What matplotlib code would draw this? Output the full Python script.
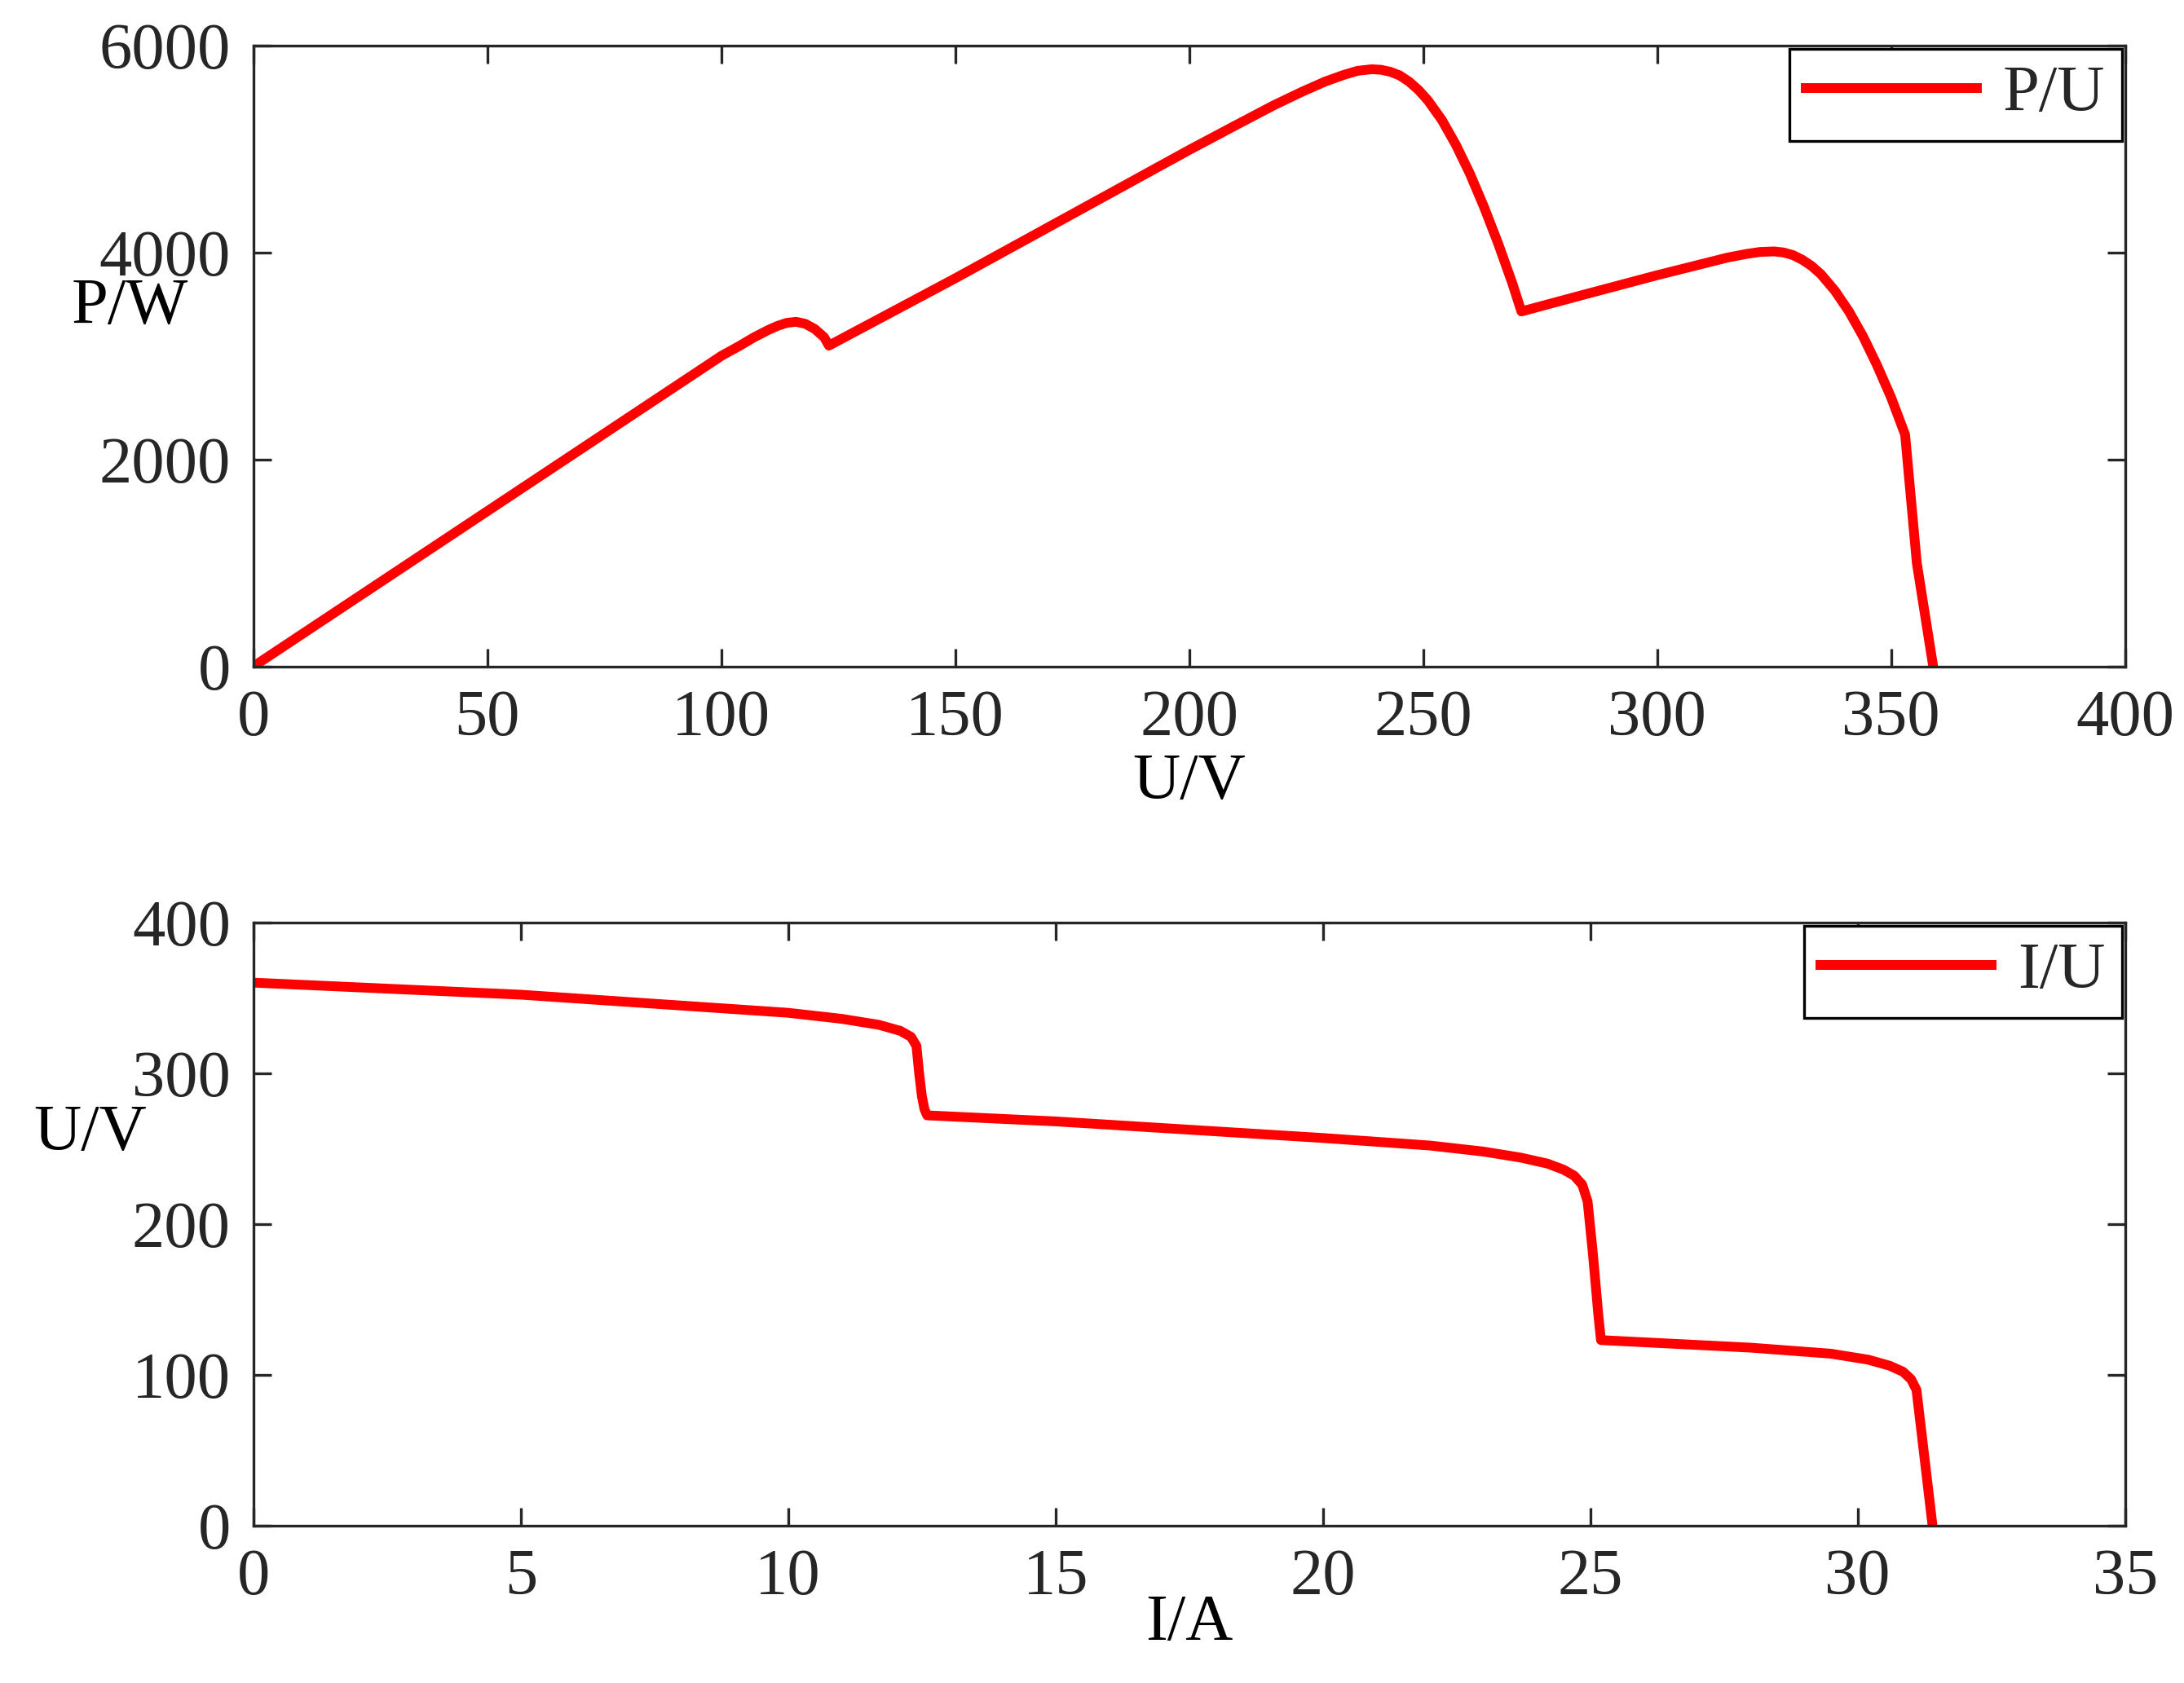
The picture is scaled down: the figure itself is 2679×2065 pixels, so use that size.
import matplotlib.pyplot as plt

plt.rcParams['font.family'] = ['Liberation Serif', 'DejaVu Serif']
plt.rcParams['font.size'] = 29
plt.rcParams['text.color'] = '#262626'
plt.rcParams['xtick.color'] = '#262626'
plt.rcParams['ytick.color'] = '#262626'

# P-U curve
pu_u = [0, 25, 50, 75, 100, 104, 107, 110, 112, 114, 116, 118, 120, 122, 123,
        150, 175, 200, 210, 218, 224, 229, 233, 236, 239, 241, 243, 245, 247, 249, 251, 254, 257, 260, 263, 266, 269, 271,
        285, 300, 315, 319, 322, 325, 327, 329, 331, 333, 335, 338, 341, 344, 347, 350, 353, 356, 359]
pu_p = [0, 750, 1500, 2250, 3000, 3100, 3180, 3250, 3290, 3320, 3330, 3310, 3260, 3180, 3100,
        3750, 4370, 4990, 5230, 5420, 5550, 5650, 5715, 5755, 5770, 5765, 5745, 5710, 5650, 5570, 5470, 5280, 5040, 4760, 4440, 4090, 3710, 3430,
        3600, 3780, 3950, 3985, 4005, 4010, 4000, 3975, 3930, 3870, 3790, 3630, 3430, 3190, 2910, 2600, 2240, 1760, 0]
pu_p[-2] = 1000
pu_u[-2] = 355.5

# I-U curve
iu_i = [0, 5, 10, 11, 11.7, 12.1, 12.3, 12.4, 12.45, 12.5, 12.55, 12.6, 15, 20, 22, 23, 23.7, 24.2, 24.5, 24.7, 24.85, 24.95, 25.05, 25.15, 25.2,
        28, 29.5, 30.2, 30.6, 30.85, 31.0, 31.1, 31.4]
iu_u = [360, 352, 340, 336, 332, 328, 324, 318, 300, 285, 276, 272, 268, 257, 252, 248, 244, 240, 236, 232, 226, 215, 180, 140, 123,
        118, 114, 110, 106, 102, 97, 90, 0]

fig = plt.figure(figsize=(13.395, 10.325), dpi=200)
ax1 = fig.add_axes([0.116, 0.604, 0.857, 0.369])
ax2 = fig.add_axes([0.116, 0.0935, 0.857, 0.3585])

ax1.plot(pu_u, pu_p, color='#ff0000', lw=4.3, label='P/U', solid_joinstyle='round')
ax1.set_xlim(0, 400)
ax1.set_ylim(0, 6000)
ax1.set_xticks(range(0, 401, 50))
ax1.set_yticks(range(0, 6001, 2000))
ax1.set_xlabel('U/V', labelpad=2)
ax1.set_ylabel('P/W', rotation=0)
ax1.yaxis.set_label_coords(-0.066, 0.53)

ax2.plot(iu_i, iu_u, color='#ff0000', lw=4.3, label='I/U', solid_joinstyle='round')
ax2.set_xlim(0, 35)
ax2.set_ylim(0, 400)
ax2.set_xticks(range(0, 36, 5))
ax2.set_yticks(range(0, 401, 100))
ax2.set_xlabel('I/A', labelpad=-6)
ax2.set_ylabel('U/V', rotation=0)
ax2.yaxis.set_label_coords(-0.087, 0.6)

for ax in (ax1, ax2):
    ax.tick_params(direction='in', top=True, right=True, length=8, width=1.2, pad=10)
    for s in ax.spines.values():
        s.set_linewidth(1.2)
        s.set_color('#262626')
    leg = ax.legend(loc='upper right', fancybox=False, edgecolor='black',
                    borderaxespad=0.05, handlelength=2.6, framealpha=1,
                    borderpad=0.25, handletextpad=0.4)
    leg.get_frame().set_linewidth(1.2)

fig.savefig('out.png', dpi=200)
